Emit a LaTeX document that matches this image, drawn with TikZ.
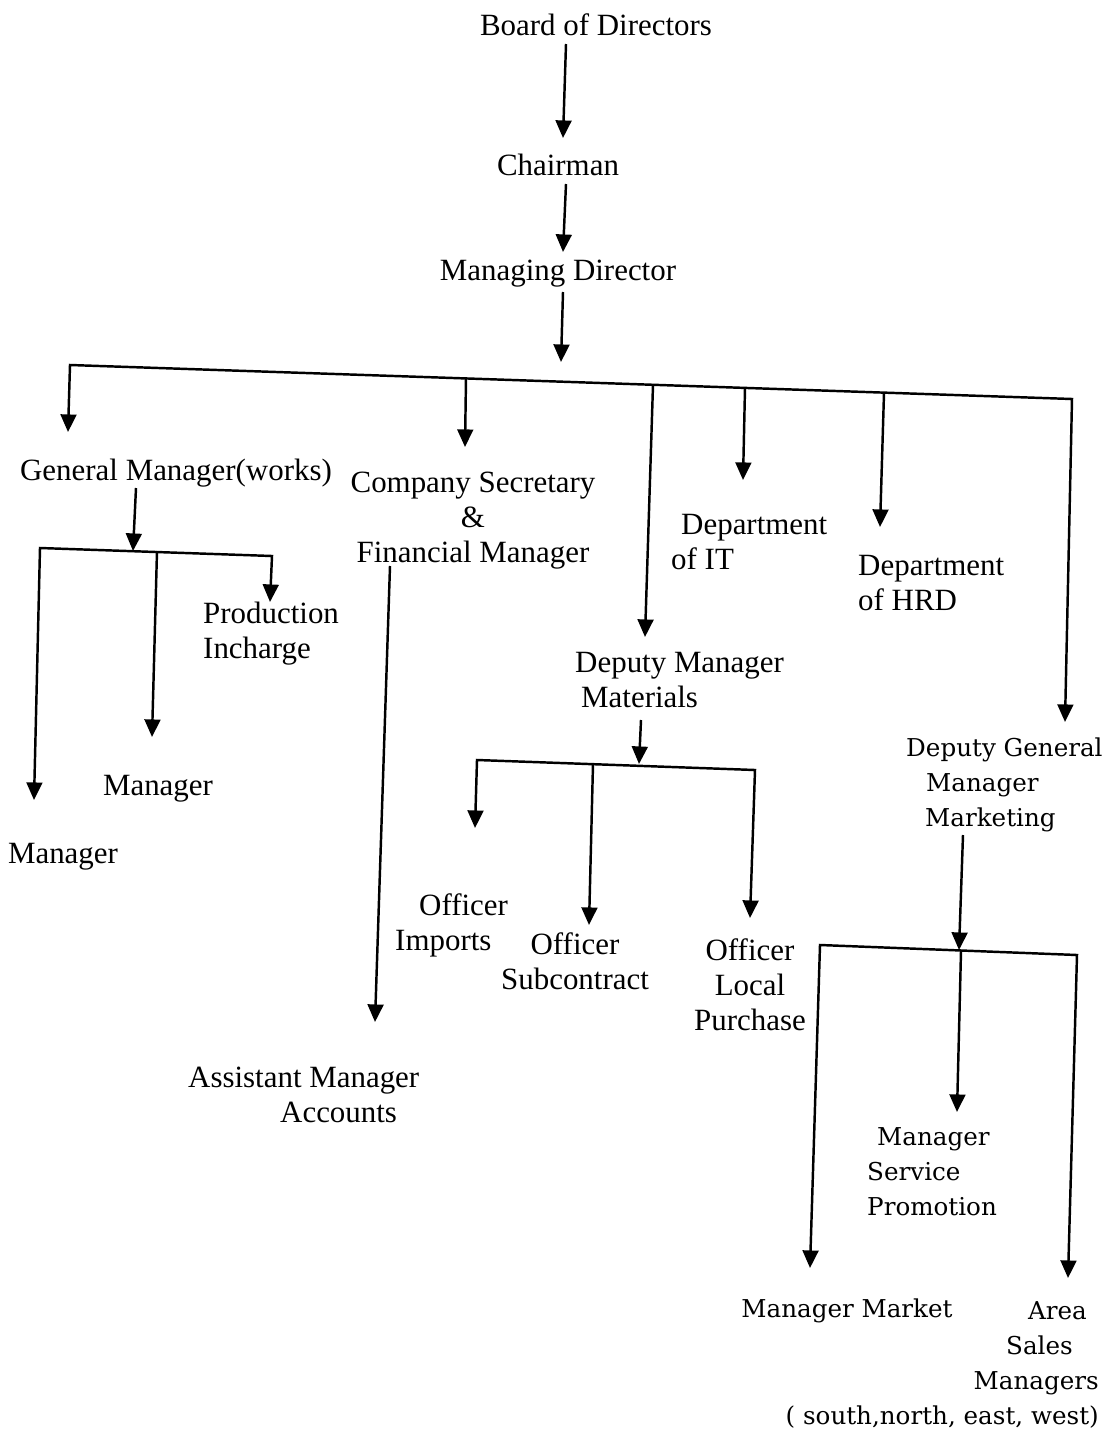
\documentclass[tikz,border=0pt]{standalone}
\usepackage{fontspec}
\setmainfont{Liberation Serif}
\newfontfamily\mktfont{DejaVu Serif}
\usetikzlibrary{positioning,arrows.meta}

\begin{document}
\begin{tikzpicture}[x=0.02cm, y=-0.02cm, line width=1.4pt,
    every node/.style={font=\fontsize{17.6}{19.8}\selectfont, inner sep=0pt, align=center, anchor=base},
    leftbox/.style={align=left, anchor=base west},
    mkt/.style={font=\mktfont\fontsize{14}{19.8}\selectfont},
    >={Triangle[length=10pt, width=9pt]}]
    \useasboundingbox (0,0) rectangle (1111,1437);

    % text nodes, placed at the base line of their last line
    \node (board) at (596,35) {Board of Directors};
    \node (chair) at (558,175) {Chairman};
    \node (md) at (558,280) {Managing Director};
    \node (gm) at (176,480) {General Manager(works)};
    \node (cs) at (473,562) {Company Secretary\\\&\\Financial Manager};
    \node[leftbox] (it) at (670,569) {\kern0.2cm Department\\of IT};
    \node[leftbox] (hrd) at (857,610) {Department\\of HRD};
    \node[leftbox] (prod) at (202,658) {Production\\Incharge};
    \node (mgrB) at (158,795) {Manager};
    \node (mgrA) at (63,863) {Manager};
    \node[leftbox] (dmm) at (574,707) {Deputy Manager\\\kern0.12cm Materials};
    \node[leftbox] (offimp) at (394,950) {\kern0.48cm Officer\\Imports};
    \node (offsub) at (575,989) {Officer\\Subcontract};
    \node (offloc) at (750,1030) {Officer\\Local\\Purchase};
    \node[leftbox] (asst) at (187,1122) {Assistant Manager\\\kern1.84cm Accounts};
    \node[mkt, leftbox] (dgm) at (905,826) {Deputy General\\\kern0.4cm Manager\\\kern0.38cm Marketing};
    \node[mkt, leftbox] (msp) at (866,1215) {\kern0.2cm Manager\\Service\\Promotion};
    \node[mkt] (mm) at (847,1317) {Manager Market};
    \node[mkt, align=right, anchor=base east] (asm) at (1100,1424)
        {Area\kern0.24cm\\Sales\kern0.52cm\\Managers\\( south,north, east, west)};

    % top of the chart
    \coordinate (boardOut) at (566,44);  \coordinate (chairIn) at (563,138);
    \coordinate (chairOut) at (566,184); \coordinate (mdIn) at (563,252);
    \coordinate (mdOut) at (563,292);    \coordinate (busIn) at (561,362);

    % main bus
    \coordinate (busGM) at (70,365);   \coordinate (gmIn) at (68,432);
    \coordinate (busCS) at (466,378);  \coordinate (csIn) at (465,447);
    \coordinate (busDM) at (653,385);  \coordinate (dmIn) at (645,637);
    \coordinate (busIT) at (745,388);  \coordinate (itIn) at (743,480);
    \coordinate (busHR) at (884,393);  \coordinate (hrIn) at (880,527);
    \coordinate (busDG) at (1072,399); \coordinate (dgIn) at (1065,722);

    % works
    \coordinate (gmOut) at (136,488); \coordinate (wkIn) at (133,551);
    \coordinate (wkL) at (40,548);    \coordinate (mgrAIn) at (34,800);
    \coordinate (wkM) at (157,551);   \coordinate (mgrBIn) at (152,737);
    \coordinate (wkR) at (272,556);   \coordinate (prodIn) at (270,602);

    % accounts
    \coordinate (csOut) at (390,566); \coordinate (asstIn) at (375,1022);

    % materials
    \coordinate (dmOut) at (641,720); \coordinate (matIn) at (639,764);
    \coordinate (matL) at (477,760);  \coordinate (impIn) at (475,828);
    \coordinate (matM) at (593,764);  \coordinate (subIn) at (589,925);
    \coordinate (matR) at (755,770);  \coordinate (locIn) at (750,918);

    % marketing
    \coordinate (dgOut) at (963,835); \coordinate (mktIn) at (959,950);
    \coordinate (mktL) at (820,945);  \coordinate (mmIn) at (810,1268);
    \coordinate (mktM) at (961,951);  \coordinate (mspIn) at (957,1112);
    \coordinate (mktR) at (1077,955); \coordinate (asmIn) at (1068,1278);

    \draw[<->] (gmIn) -- (busGM) -- (busDG) -- (dgIn);
    \draw[<->] (mgrAIn) -- (wkL) -- (wkR) -- (prodIn);
    \draw[<->] (impIn) -- (matL) -- (matR) -- (locIn);
    \draw[<->] (mmIn) -- (mktL) -- (mktR) -- (asmIn);

    \foreach \from/\to in {boardOut/chairIn, chairOut/mdIn, mdOut/busIn,
        busCS/csIn, busDM/dmIn, busIT/itIn, busHR/hrIn,
        gmOut/wkIn, wkM/mgrBIn, csOut/asstIn,
        dmOut/matIn, matM/subIn, dgOut/mktIn, mktM/mspIn}
        \draw[->] (\from) -- (\to);
\end{tikzpicture}
\end{document}
